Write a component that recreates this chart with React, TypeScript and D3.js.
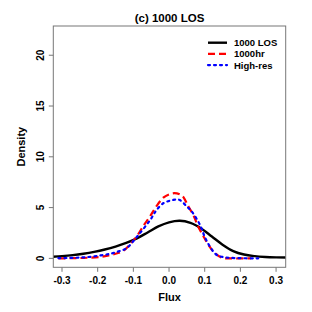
import React from 'react';
import * as d3 from 'd3';

// values
const losX = [-0.33, -0.3, -0.27, -0.24, -0.21, -0.18, -0.15, -0.12, -0.09, -0.06, -0.03, 0.0, 0.03, 0.06, 0.09, 0.12, 0.15, 0.18, 0.21, 0.24, 0.27, 0.3, 0.33];
const losY = [0.15, 0.22, 0.32, 0.46, 0.64, 0.87, 1.16, 1.52, 1.97, 2.55, 3.15, 3.55, 3.7, 3.5, 2.95, 2.15, 1.35, 0.72, 0.38, 0.22, 0.14, 0.1, 0.08];

const hrX = [-0.31, -0.27, -0.23, -0.19, -0.165, -0.145, -0.128, -0.11, -0.09, -0.07, -0.053, -0.035, -0.015, 0.0, 0.015, 0.03, 0.04, 0.052, 0.068, 0.082, 0.096, 0.108, 0.12, 0.13, 0.148, 0.165, 0.23];
const hrY = [0.0, 0.02, 0.06, 0.16, 0.33, 0.5, 0.75, 1.35, 2.2, 3.3, 4.15, 5.15, 6.0, 6.3, 6.42, 6.3, 6.05, 5.25, 4.27, 3.1, 2.2, 1.45, 0.85, 0.47, 0.06, 0.0, 0.0];

const hiX = [-0.31, -0.27, -0.23, -0.19, -0.165, -0.145, -0.12, -0.09, -0.053, -0.035, -0.015, 0.0, 0.017, 0.03, 0.05, 0.064, 0.087, 0.1, 0.115, 0.134, 0.157, 0.185, 0.25];
const hiY = [0.02, 0.05, 0.12, 0.3, 0.45, 0.65, 0.98, 2.13, 3.77, 4.76, 5.45, 5.65, 5.78, 5.75, 5.1, 4.6, 3.28, 2.13, 1.14, 0.33, 0.1, 0.03, 0.0];

const xTicks = [-0.3, -0.2, -0.1, 0.0, 0.1, 0.2, 0.3];
const yTicks = [0, 5, 10, 15, 20];

const seriesNames = ['1000 LOS', '1000hr', 'High-res'];
const seriesColors = ['#000000', '#ff0000', '#0000ff'];
const seriesDash = ['none', '7,4', '2,4'];
const seriesWidth = [2.4, 2.2, 2.2];

const font = "'Liberation Sans', Arial, Helvetica, sans-serif";

export default function App() {
  const left = 53.3;
  const right = 285.7;
  const top = 26;
  const bottom = 267.3;

  const x = d3.scaleLinear().domain([-0.3244, 0.327]).range([left, right]);
  const y = d3.scaleLinear().domain([-0.88, 22.88]).range([bottom, top]);

  const line = d3
    .line<[number, number]>()
    .x((d) => x(d[0]))
    .y((d) => y(Math.max(d[1], 0)))
    .curve(d3.curveCatmullRom.alpha(0.5));

  const series = [
    d3.zip(losX, losY) as [number, number][],
    d3.zip(hrX, hrY) as [number, number][],
    d3.zip(hiX, hiY) as [number, number][],
  ];

  const axisColor = '#777';

  return (
    <svg
      width={312}
      height={312}
      style={{ position: 'absolute', left: 0, top: 0, background: '#fff' }}
      fontFamily={font}
    >
      <defs>
        <clipPath id="plot">
          <rect x={left} y={top} width={right - left} height={bottom - top} />
        </clipPath>
      </defs>

      {/* title */}
      <text x={(left + right) / 2} y={22} textAnchor="middle" fontSize={11.5} fontWeight="bold">
        (c) 1000 LOS
      </text>

      {/* curves */}
      <g clipPath="url(#plot)">
        {series.map((s, i) => (
          <path
            key={seriesNames[i]}
            d={line(s) || ''}
            fill="none"
            stroke={seriesColors[i]}
            strokeWidth={seriesWidth[i]}
            strokeDasharray={seriesDash[i]}
            strokeLinecap={i === 2 ? 'round' : 'butt'}
          />
        ))}
      </g>

      {/* frame */}
      <rect x={left} y={top} width={right - left} height={bottom - top} fill="none" stroke={axisColor} strokeWidth={1} />

      {/* x axis */}
      {xTicks.map((t) => (
        <g key={t}>
          <line x1={x(t)} x2={x(t)} y1={bottom} y2={bottom + 4.5} stroke={axisColor} />
          <text x={x(t)} y={284} textAnchor="middle" fontSize={10} fontWeight="bold">
            {t.toFixed(1)}
          </text>
        </g>
      ))}
      <text x={(left + right) / 2} y={301} textAnchor="middle" fontSize={11} fontWeight="bold">
        Flux
      </text>

      {/* y axis */}
      {yTicks.map((t) => (
        <g key={t}>
          <line x1={left - 4.5} x2={left} y1={y(t)} y2={y(t)} stroke={axisColor} />
          <text
            transform={`translate(44,${y(t)}) rotate(-90)`}
            textAnchor="middle"
            fontSize={10}
            fontWeight="bold"
          >
            {t}
          </text>
        </g>
      ))}
      <text
        transform={`translate(25,${(top + bottom) / 2}) rotate(-90)`}
        textAnchor="middle"
        fontSize={11}
        fontWeight="bold"
      >
        Density
      </text>

      {/* legend */}
      {seriesNames.map((name, i) => (
        <g key={name} transform={`translate(208,${42.7 + i * 11.2})`}>
          <line
            x1={0}
            x2={19}
            y1={0}
            y2={0}
            stroke={seriesColors[i]}
            strokeWidth={seriesWidth[i]}
            strokeDasharray={seriesDash[i]}
            strokeLinecap={i === 2 ? 'round' : 'butt'}
          />
          <text x={26} y={3.5} fontSize={9.5} fontWeight="bold">
            {name}
          </text>
        </g>
      ))}
    </svg>
  );
}
